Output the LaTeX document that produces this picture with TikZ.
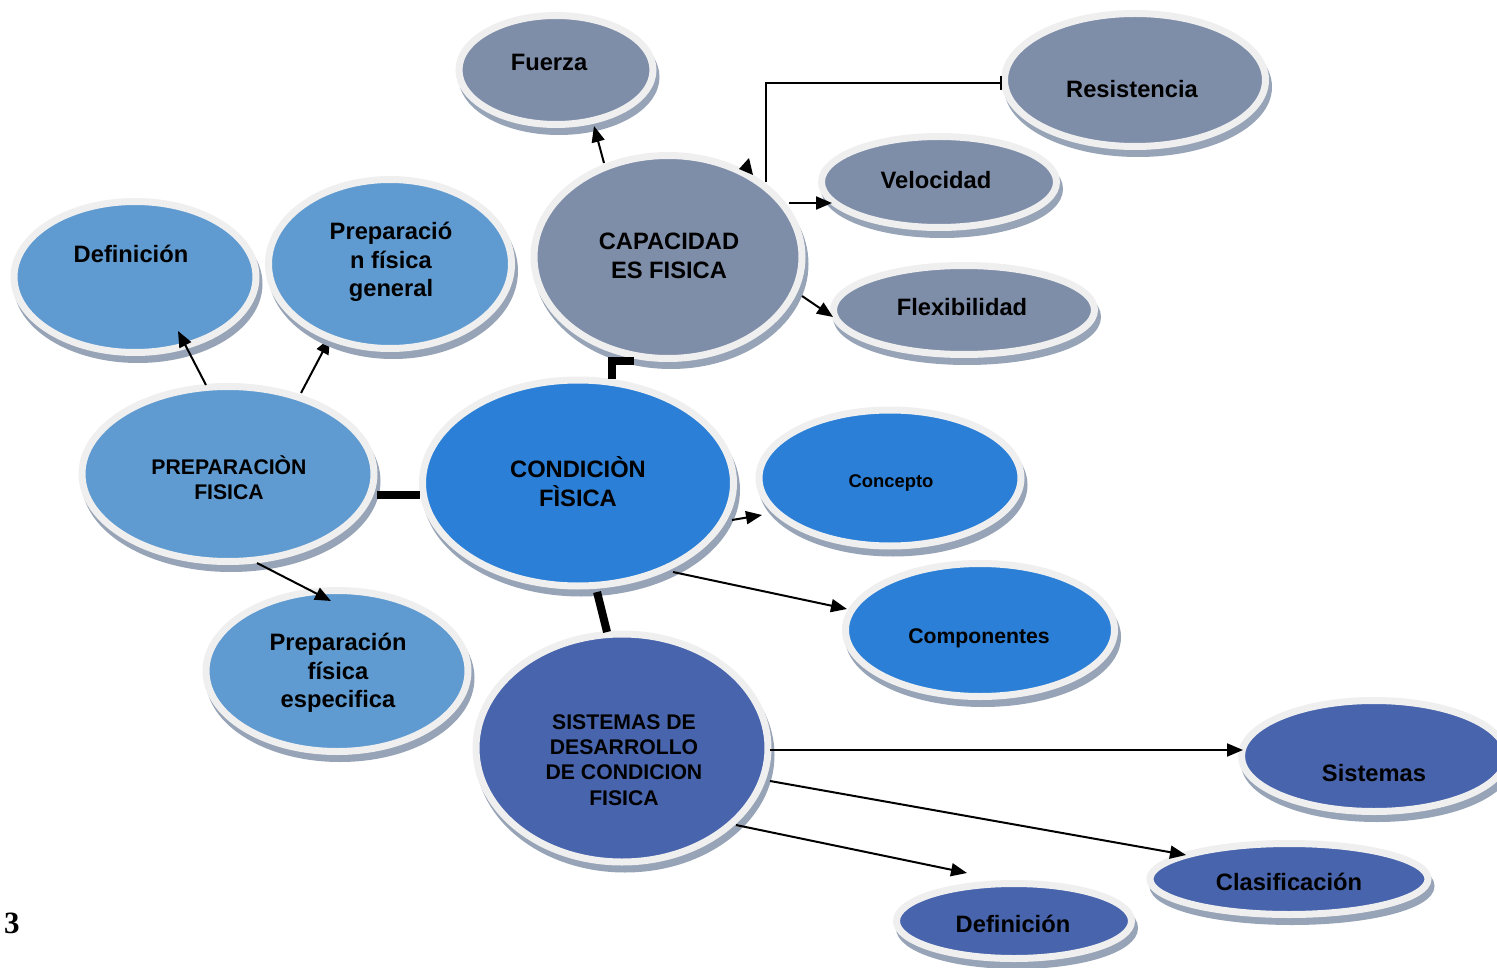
\documentclass[tikz,border=0pt]{standalone}
\usepackage{fontspec}
\setmainfont{Liberation Sans}
\newfontfamily\serifb{Liberation Serif}
\usetikzlibrary{shapes.geometric,shadows,arrows.meta}
\definecolor{cgray}{HTML}{7E8DA8}
\definecolor{clight}{HTML}{5F9BD0}
\definecolor{cbright}{HTML}{2B7FD6}
\definecolor{cindigo}{HTML}{4864AC}
\definecolor{ring}{HTML}{EFEFEF}
\definecolor{shad}{HTML}{97A3B6}
\tikzset{
  ell/.style={ellipse, draw=ring, line width=7pt, inner sep=0pt,
    general shadow={shadow xshift=3pt, shadow yshift=-7pt, fill=shad, draw=shad, line width=7pt}},
  lbl/.style={font=\bfseries\fontsize{23.7}{29}\selectfont, align=center, inner sep=0pt},
  lbls/.style={font=\bfseries\fontsize{21.2}{25.3}\selectfont, align=center, inner sep=0pt},
  arr/.style={-{Triangle[length=16pt,width=13pt]}, line width=2pt},
  heavy/.style={line width=8pt}
}
\begin{document}
\begin{tikzpicture}[x=1pt,y=-1pt]
\useasboundingbox (0,0) rectangle (1497,968);

% connector hidden behind "Preparacion fisica general"
\coordinate (pfisA) at (301,393);
\coordinate (pgenA) at (330,338);
\draw[arr] (pfisA) -- (pgenA);

% nodes
\node[ell, fill=cgray, minimum width=194pt, minimum height=109pt] (fuerza) at (556,70) {};
\node[ell, fill=cgray, minimum width=261pt, minimum height=133pt] (resist) at (1135,80) {};
\node[ell, fill=cgray, minimum width=235pt, minimum height=91pt] (veloc) at (939,182) {};
\node[ell, fill=cgray, minimum width=261pt, minimum height=89pt] (flex) at (964,310) {};
\node[ell, fill=cgray, minimum width=268pt, minimum height=203pt] (cap) at (668,257) {};
\node[ell, fill=clight, minimum width=242pt, minimum height=151pt] (def1) at (135,277) {};
\node[ell, fill=clight, minimum width=243pt, minimum height=169pt] (pgen) at (390,264) {};
\node[ell, fill=clight, minimum width=292pt, minimum height=175pt] (pfis) at (228,474) {};
\node[ell, fill=cbright, minimum width=311pt, minimum height=206pt] (cond) at (578,483) {};
\node[ell, fill=cbright, minimum width=262pt, minimum height=136pt] (conc) at (890,478) {};
\node[ell, fill=cbright, minimum width=269pt, minimum height=133pt] (comp) at (980,630) {};
\node[ell, fill=clight, minimum width=262pt, minimum height=161pt] (pesp) at (337,671) {};
\node[ell, fill=cindigo, minimum width=292pt, minimum height=228pt] (sdev) at (622,748) {};
\node[ell, fill=cindigo, minimum width=265pt, minimum height=111pt] (sist) at (1374,756) {};
\node[ell, fill=cindigo, minimum width=278pt, minimum height=71pt] (clas) at (1289,879) {};
\node[ell, fill=cindigo, minimum width=235pt, minimum height=75pt] (def2) at (1014,921) {};

% labels
\node[lbl] (fuerzaT) at (549,62) {Fuerza};
\node[lbl] (resistT) at (1132,89) {Resistencia};
\node[lbl] (velocT) at (936,180) {Velocidad};
\node[lbl] (flexT) at (962,307) {Flexibilidad};
\node[lbl] (capT) at (669,256) {CAPACIDAD\\ES FISICA};
\node[lbl] (def1T) at (131,254) {Definición};
\node[lbl, font=\bfseries\fontsize{23.7}{28.5}\selectfont] (pgenT) at (391,262) {Preparació\\n física\\general};
\node[lbls, font=\bfseries\fontsize{21.2}{25}\selectfont] (pfisT) at (229,478) {PREPARACIÒN\\FISICA};
\node[lbl] (condT) at (578,482) {CONDICIÒN\\FÌSICA};
\node[lbl, font=\bfseries\fontsize{18.4}{22}\selectfont] (concT) at (891,483) {Concepto};
\node[lbls] (compT) at (979,638) {Componentes};
\node[lbl, font=\bfseries\fontsize{23.7}{28.5}\selectfont] (pespT) at (338,673) {Preparación\\física\\especifica};
\node[lbls] (sdevT) at (624,760) {SISTEMAS DE\\DESARROLLO\\DE CONDICION\\FISICA};
\node[lbl] (sistT) at (1374,773) {Sistemas};
\node[lbl] (clasT) at (1289,882) {Clasificación};
\node[lbl] (def2T) at (1013,924) {Definición};
\node[font=\serifb\bfseries\fontsize{31}{31}\selectfont, inner sep=0pt] (num) at (12,923) {3};

% endpoint coordinates
\coordinate (capA) at (604,163);
\coordinate (fuerzaA) at (594,126);
\coordinate (capB) at (766,182);
\coordinate (resistA) at (1002,83);
\coordinate (capC) at (789,203);
\coordinate (velocA) at (832,203);
\coordinate (capD) at (802,296);
\coordinate (flexA) at (833,317);
\coordinate (capE) at (634,361);
\coordinate (condA) at (612,379);
\coordinate (pfisB) at (377,495);
\coordinate (condB) at (420,495);
\coordinate (condC) at (597,592);
\coordinate (sdevA) at (607,632);
\coordinate (condD) at (732,520);
\coordinate (concA) at (762,515);
\coordinate (condE) at (673,572);
\coordinate (compA) at (847,609);
\coordinate (pfisC) at (206,385);
\coordinate (def1A) at (178,331);
\coordinate (pfisD) at (257,563);
\coordinate (pespA) at (331,601);
\coordinate (sdevB) at (770,750);
\coordinate (sistA) at (1243,750);
\coordinate (sdevC) at (770,781);
\coordinate (clasA) at (1186,855);
\coordinate (sdevD) at (736,825);
\coordinate (def2A) at (967,873);

% connectors
\draw[arr] (capA) -- (fuerzaA);
\draw[line width=2pt, -{Bar[width=14pt]}] (capB) |- (resistA);
\fill (739,169) -- (749,158) -- (753,175) -- cycle;
\draw[arr] (capC) -- (velocA);
\draw[arr] (capD) -- (flexA);
\draw[heavy] (capE) -| (condA);
\draw[heavy] (pfisB) -- (condB);
\draw[heavy] (condC) -- (sdevA);
\draw[arr] (condD) -- (concA);
\draw[arr] (condE) -- (compA);
\draw[arr] (pfisC) -- (def1A);
\draw[arr] (pfisD) -- (pespA);
\draw[arr] (sdevB) -- (sistA);
\draw[arr] (sdevC) -- (clasA);
\draw[arr] (sdevD) -- (def2A);
\end{tikzpicture}
\end{document}
